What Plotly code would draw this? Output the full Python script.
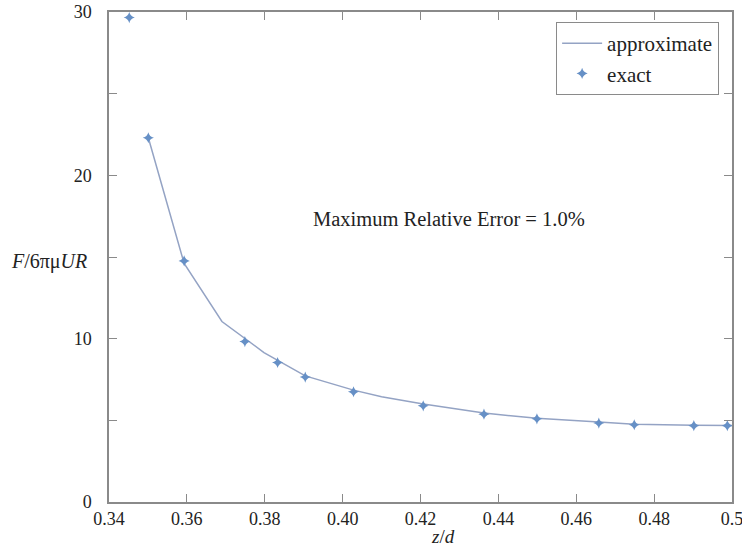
import plotly.graph_objects as go

# exact data points
exact_x = [0.3452, 0.3501, 0.3593, 0.3749, 0.3833, 0.3904, 0.4028, 0.4207, 0.4363, 0.4499, 0.4658, 0.4749, 0.4902, 0.4988]
exact_y = [29.66, 22.3, 14.76, 9.82, 8.54, 7.65, 6.75, 5.89, 5.38, 5.09, 4.83, 4.73, 4.67, 4.67]

# approximate curve
approx_x = [0.3501, 0.3593, 0.3690, 0.3798, 0.3904, 0.4028, 0.4100, 0.4207, 0.4363, 0.4499, 0.4658, 0.4749, 0.4902, 0.5000]
approx_y = [22.3, 14.6, 11.05, 9.15, 7.72, 6.85, 6.45, 6.0, 5.45, 5.12, 4.9, 4.76, 4.7, 4.68]

x_ticks = [0.34, 0.36, 0.38, 0.40, 0.42, 0.44, 0.46, 0.48, 0.50]
x_ticktext = ["0.34", "0.36", "0.38", "0.40", "0.42", "0.44", "0.46", "0.48", "0.5"]
y_ticks = [0, 5, 10, 15, 20, 25, 30]
y_ticktext = ["0", "", "10", "", "20", "", "30"]

font_family = "'Liberation Serif'"
axis_color = "#8a8a8a"

fig = go.Figure()
fig.add_trace(go.Scatter(
    x=approx_x, y=approx_y, mode="lines", name="approximate",
    line=dict(color="#94a3c4", width=1.5),
))
fig.add_trace(go.Scatter(
    x=exact_x, y=exact_y, mode="markers", name="exact",
    marker=dict(symbol="star-diamond", size=8, color="#6690c6",
                line=dict(width=0)),
))

fig.add_annotation(x=0.4259, y=-0.0714, xref="x", yref="paper", yanchor="middle",
                   text="<i>z</i>/<i>d</i>",
                   showarrow=False, font=dict(family=font_family, size=19, color="#222"))
fig.add_annotation(x=-0.032, y=14.7, xref="paper", yref="y", xanchor="right",
                   text="<i>F</i>/6πμ<i>UR</i>", showarrow=False,
                   font=dict(family=font_family, size=20, color="#222"))
fig.add_annotation(x=0.4273, y=17.3, xref="x", yref="y", text="Maximum Relative Error = 1.0%",
                   showarrow=False, font=dict(family=font_family, size=20.5, color="#222"))

fig.update_layout(
    width=742, height=552,
    margin=dict(l=109, r=10, t=12, b=50),
    plot_bgcolor="white", paper_bgcolor="white",
    font=dict(family=font_family, size=18, color="#222"),
    legend=dict(x=0.979, y=0.98, xanchor="right", yanchor="top",
                bordercolor=axis_color, borderwidth=1.2, bgcolor="white",
                font=dict(family=font_family, size=21), tracegroupgap=0,
                itemwidth=40),
    showlegend=True,
)
fig.update_xaxes(range=[0.34, 0.5], tickvals=x_ticks, ticktext=x_ticktext,
                 showgrid=False, zeroline=False, showline=True, linecolor=axis_color,
                 linewidth=1.5, mirror="ticks", ticks="inside", ticklen=8,
                 tickcolor=axis_color, tickwidth=1.2, automargin=False,
                 ticklabeloverflow="allow")
fig.update_yaxes(range=[0, 30], tickvals=y_ticks, ticktext=y_ticktext,
                 showgrid=False, zeroline=False, showline=True, linecolor=axis_color,
                 linewidth=1.5, mirror="ticks", ticks="inside", ticklen=8,
                 tickcolor=axis_color, tickwidth=1.2, ticklabelstandoff=12,
                 automargin=False, ticklabeloverflow="allow")

fig.write_html("out.html")
